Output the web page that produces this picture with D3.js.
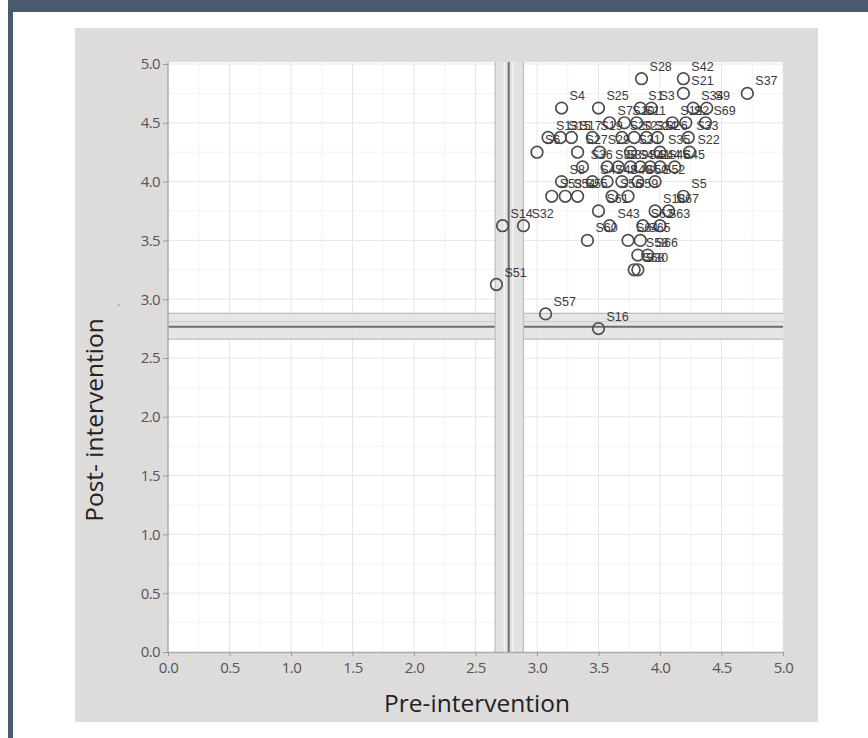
<!DOCTYPE html>
<html><head><meta charset="utf-8">
<script src="https://cdn.jsdelivr.net/npm/d3@7"></script>
<style>html,body{margin:0;padding:0;background:#fff;}svg{display:block;}</style>
</head><body>
<script>
// ---- data ----
const labels = ["S28","S42","S21","S37","S4","S25","S1","S3","S34","S9","S7","S10","S11","S12","S2","S69",
"S13","S15","S17","S19","S20","S23","S24","S26","S33","S6","S27","S29","S31","S35","S22",
"S36","S38","S39","S40","S41","S44","S46","S45","S8","S47","S48","S49","S50","S52",
"S53","S54","S55","S56","S59","S5","S18","S67","S61","S14","S32","S43","S62","S63","S60","S64","S65",
"S58","S66","S30","S68","S51","S57","S16"];
const pre = [3.85,4.19,4.19,4.71,3.20,3.50,3.84,3.93,4.27,4.38,3.59,3.71,3.81,4.10,4.21,4.37,
3.09,3.19,3.28,3.45,3.69,3.79,3.89,3.98,4.23,3.00,3.33,3.51,3.76,4.00,4.24,
3.37,3.57,3.66,3.76,3.84,3.92,4.00,4.12,3.20,3.45,3.57,3.69,3.82,3.96,
3.12,3.23,3.33,3.61,3.74,4.19,3.96,4.07,3.50,2.72,2.89,3.59,3.86,4.00,3.41,3.74,3.84,
3.82,3.90,3.82,3.79,2.67,3.07,3.50];
const post = [4.875,4.875,4.75,4.75,4.625,4.625,4.625,4.625,4.625,4.625,4.5,4.5,4.5,4.5,4.5,4.5,
4.375,4.375,4.375,4.375,4.375,4.375,4.375,4.375,4.375,4.25,4.25,4.25,4.25,4.25,4.25,
4.125,4.125,4.125,4.125,4.125,4.125,4.125,4.125,4.0,4.0,4.0,4.0,4.0,4.0,
3.875,3.875,3.875,3.875,3.875,3.875,3.75,3.75,3.75,3.625,3.625,3.625,3.625,3.625,3.5,3.5,3.5,
3.375,3.375,3.25,3.25,3.125,2.875,2.75];
const tickValues = [0,0.5,1,1.5,2,2.5,3,3.5,4,4.5,5];
const minorValues = [0.25,0.75,1.25,1.75,2.25,2.75,3.25,3.75,4.25,4.75];
const xRef = {mean:2.77, lo:2.66, hi:2.89};
const yRef = {mean:2.765, lo:2.66, hi:2.88};
const xTitle = "Pre-intervention";
const yTitle = "Post- intervention";

// ---- layout ----
const W = 868, H = 738;
const FONT = "'Open Sans', 'Liberation Sans', Arial, sans-serif";
const svg = d3.select("body").append("svg").attr("width", W).attr("height", H);
svg.append("rect").attr("width", W).attr("height", H).attr("fill", "#fff");
// banner & left bar
svg.append("rect").attr("x", 8).attr("y", 0).attr("width", W - 8).attr("height", 12).attr("fill", "#475a6e");
svg.append("rect").attr("x", 8).attr("y", 0).attr("width", 5).attr("height", H).attr("fill", "#475a6e");
// gray panel
svg.append("rect").attr("x", 75).attr("y", 28).attr("width", 743).attr("height", 694).attr("fill", "#dedbdb");

const x = d3.scaleLinear().domain([0, 5]).range([168, 783]);
const y = d3.scaleLinear().domain([0, 5]).range([652, 64]);

// plot area
svg.append("rect").attr("x", x(0)).attr("y", y(5) - 2).attr("width", x(5) - x(0)).attr("height", y(0) - y(5) + 2).attr("fill", "#fff");

const g = svg.append("g");
// minor grid
g.selectAll(".mx").data(minorValues).join("line")
  .attr("x1", d => x(d)).attr("x2", d => x(d)).attr("y1", y(0)).attr("y2", y(5) - 2)
  .attr("stroke", "#f3f3f3").attr("stroke-width", 1);
g.selectAll(".my").data(minorValues).join("line")
  .attr("y1", d => y(d)).attr("y2", d => y(d)).attr("x1", x(0)).attr("x2", x(5))
  .attr("stroke", "#f3f3f3").attr("stroke-width", 1);
// major grid
g.selectAll(".gx").data(tickValues.slice(1)).join("line")
  .attr("x1", d => x(d)).attr("x2", d => x(d)).attr("y1", y(0)).attr("y2", y(5) - 2)
  .attr("stroke", "#e6e6e6").attr("stroke-width", 1);
g.selectAll(".gy").data(tickValues.slice(1)).join("line")
  .attr("y1", d => y(d)).attr("y2", d => y(d)).attr("x1", x(0)).attr("x2", x(5))
  .attr("stroke", "#e6e6e6").attr("stroke-width", 1);

// reference bands
function vBand(r) {
  g.append("rect").attr("x", x(r.lo)).attr("y", y(5) - 2).attr("width", x(r.hi) - x(r.lo)).attr("height", y(0) - y(5) + 2)
    .attr("fill", "#e2e2e2");
  [r.lo, r.hi].forEach(v => g.append("line").attr("x1", x(v)).attr("x2", x(v)).attr("y1", y(0)).attr("y2", y(5) - 2)
    .attr("stroke", "#bdbdbd").attr("stroke-width", 1.2));
  [r.mean - 0.035, r.mean + 0.035].forEach(v => g.append("line").attr("x1", x(v)).attr("x2", x(v)).attr("y1", y(0)).attr("y2", y(5) - 2)
    .attr("stroke", "#f4f4f4").attr("stroke-width", 1.5));
  g.append("line").attr("x1", x(r.mean)).attr("x2", x(r.mean)).attr("y1", y(0)).attr("y2", y(5) - 2)
    .attr("stroke", "#6e6e6e").attr("stroke-width", 2);
}
function hBand(r) {
  g.append("rect").attr("x", x(0)).attr("y", y(r.hi)).attr("width", x(5) - x(0)).attr("height", y(r.lo) - y(r.hi))
    .attr("fill", "#e2e2e2").attr("fill-opacity", 0.85);
  [r.lo, r.hi].forEach(v => g.append("line").attr("y1", y(v)).attr("y2", y(v)).attr("x1", x(0)).attr("x2", x(5))
    .attr("stroke", "#bdbdbd").attr("stroke-width", 1.2));
  [r.mean + 0.045].forEach(v => g.append("line").attr("y1", y(v)).attr("y2", y(v)).attr("x1", x(0)).attr("x2", x(5))
    .attr("stroke", "#cfcfcf").attr("stroke-width", 1.2));
  g.append("line").attr("y1", y(r.mean)).attr("y2", y(r.mean)).attr("x1", x(0)).attr("x2", x(5))
    .attr("stroke", "#6e6e6e").attr("stroke-width", 2);
}
hBand(yRef);
vBand(xRef);

// axes
const xAxis = d3.axisBottom(x).tickValues(tickValues).tickFormat(d3.format(".1f")).tickSize(4).tickSizeOuter(0);
const yAxis = d3.axisLeft(y).tickValues(tickValues).tickFormat(d3.format(".1f")).tickSize(5).tickPadding(3).tickSizeOuter(0);
const gx = svg.append("g").attr("transform", `translate(0,${y(0)})`).call(xAxis);
const gy = svg.append("g").attr("transform", `translate(${x(0)},0)`).call(yAxis);
[gx, gy].forEach(a => {
  a.select(".domain").attr("stroke", "#ababab").attr("stroke-width", 1.5);
  a.selectAll(".tick line").attr("stroke", "#9a9a9a");
  a.selectAll(".tick text").attr("fill", "#555").style("font-family", FONT).style("font-size", "15px").style("letter-spacing", "-0.6px");
});
gx.selectAll(".tick text").attr("dy", "0.9em");
gy.select(".domain").attr("d", `M0,${y(0)}V${y(5) - 2}`);

// stray mark near the y title
svg.append("text").attr("x", 117).attr("y", 306).attr("fill", "#777").style("font-family", FONT).style("font-size", "12px").text(".");

// points
const data = labels.map((l, i) => ({label: l, pre: pre[i], post: post[i]}));
const pts = svg.append("g");
pts.selectAll("circle").data(data).join("circle")
  .attr("cx", d => x(d.pre)).attr("cy", d => y(d.post)).attr("r", 5.8)
  .attr("fill", "none").attr("stroke", "#4d4d4d").attr("stroke-width", 1.7);
pts.selectAll("text").data(data).join("text")
  .attr("x", d => x(d.pre) + 8).attr("y", d => y(d.post) - 8)
  .attr("fill", "#3a3a3a").style("font-family", "'Liberation Sans', Arial, sans-serif").style("font-size", "12.5px")
  .text(d => d.label);

// titles
svg.append("text").attr("x", 477).attr("y", 712).attr("text-anchor", "middle")
  .attr("fill", "#222").style("font-family", FONT).style("font-size", "24.5px")
  .text(xTitle);
svg.append("text").attr("transform", "translate(103,420) rotate(-90)").attr("text-anchor", "middle")
  .attr("fill", "#222").style("font-family", FONT).style("font-size", "24.5px")
  .text(yTitle);
</script>
</body></html>
